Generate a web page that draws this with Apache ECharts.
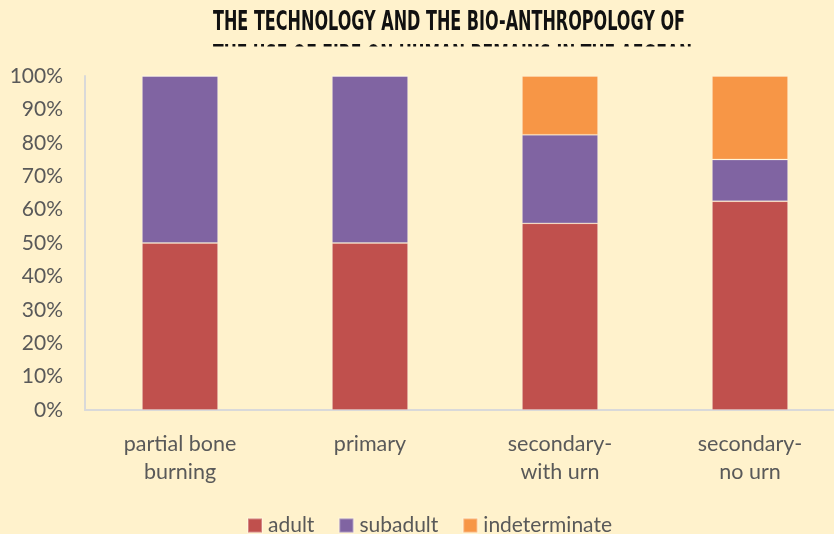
<!DOCTYPE html>
<html>
<head>
<meta charset="utf-8">
<script src="https://cdn.jsdelivr.net/npm/echarts@6/dist/echarts.min.js"></script>
<style>
  html, body { margin: 0; padding: 0; background: #FFF2CC; }
  #chart { width: 834px; height: 534px; }
</style>
</head>
<body>
<div id="chart"></div>
<script>
// categories and stacked shares (percent of each burial type)
var categories = ['partial bone\nburning', 'primary', 'secondary-\nwith urn', 'secondary-\nno urn'];
var adult = [50, 50, 55.9, 62.5];
var subadult = [50, 50, 26.5, 12.5];
var indeterminate = [0, 0, 17.6, 25];
var titleLines = ['THE TECHNOLOGY AND THE BIO-ANTHROPOLOGY OF', 'THE USE OF FIRE ON HUMAN REMAINS IN THE AEGEAN'];

var labelFont = 'Lato, "Open Sans", sans-serif';
var titleFont = '"Liberation Sans Narrow", "DejaVu Sans Condensed", sans-serif';

// squeeze the title to the narrow width of the original
function fitScale(text, width) {
    var ctx = document.createElement('canvas').getContext('2d');
    ctx.font = 'bold 27px ' + titleFont;
    return width / ctx.measureText(text).width;
}

var chart = echarts.init(document.getElementById('chart'));

function barSeries(name, data, color) {
    return {
        name: name,
        type: 'bar',
        stack: 'total',
        barWidth: 76,
        itemStyle: {
            color: color,
            borderColor: 'rgba(255,255,255,0.3)',
            borderWidth: 0.8
        },
        data: data
    };
}

var option = {
    backgroundColor: '#FFF2CC',
    animation: false,
    grid: {
        left: 85,
        width: 760,
        top: 76,
        bottom: 124,
        outerBoundsMode: 'none'
    },
    graphic: [
        {
            type: 'text',
            x: 213,
            y: 12,
            scaleX: fitScale(titleLines[1], 479),
            style: {
                text: titleLines[1],
                font: 'bold 27px ' + titleFont,
                fill: '#111111',
                y: 31
            }
        },
        {
            type: 'rect',
            shape: { x: 150, y: 46.5, width: 600, height: 28 },
            style: { fill: '#FFF2CC' }
        },
        {
            type: 'text',
            x: 213,
            y: 9,
            scaleX: fitScale(titleLines[0], 472),
            style: {
                text: titleLines[0],
                font: 'bold 27px ' + titleFont,
                fill: '#111111'
            }
        }
    ],
    legend: {
        top: 510,
        left: 242,
        itemWidth: 14,
        itemHeight: 14,
        itemGap: 24,
        icon: 'rect',
        textStyle: {
            fontFamily: labelFont,
            fontSize: 21,
            color: '#595959',
            padding: [0, 0, 0, 1]
        },
        data: ['adult', 'subadult', 'indeterminate']
    },
    xAxis: {
        type: 'category',
        data: categories,
        axisLine: { lineStyle: { color: '#D9D9D9', width: 2 } },
        axisTick: { show: false },
        axisLabel: {
            fontFamily: labelFont,
            fontSize: 21.5,
            color: '#595959',
            lineHeight: 28,
            margin: 20
        }
    },
    yAxis: {
        type: 'value',
        min: 0,
        max: 100,
        interval: 10,
        axisLine: { show: true, lineStyle: { color: '#D9D9D9', width: 2 } },
        axisTick: { show: false },
        splitLine: { show: false },
        axisLabel: {
            formatter: '{value}%',
            fontFamily: labelFont,
            fontSize: 21,
            color: '#595959',
            margin: 22
        }
    },
    series: [
        barSeries('adult', adult, '#C0504D'),
        barSeries('subadult', subadult, '#8064A2'),
        barSeries('indeterminate', indeterminate, '#F79646')
    ]
};

chart.setOption(option);
</script>
</body>
</html>
